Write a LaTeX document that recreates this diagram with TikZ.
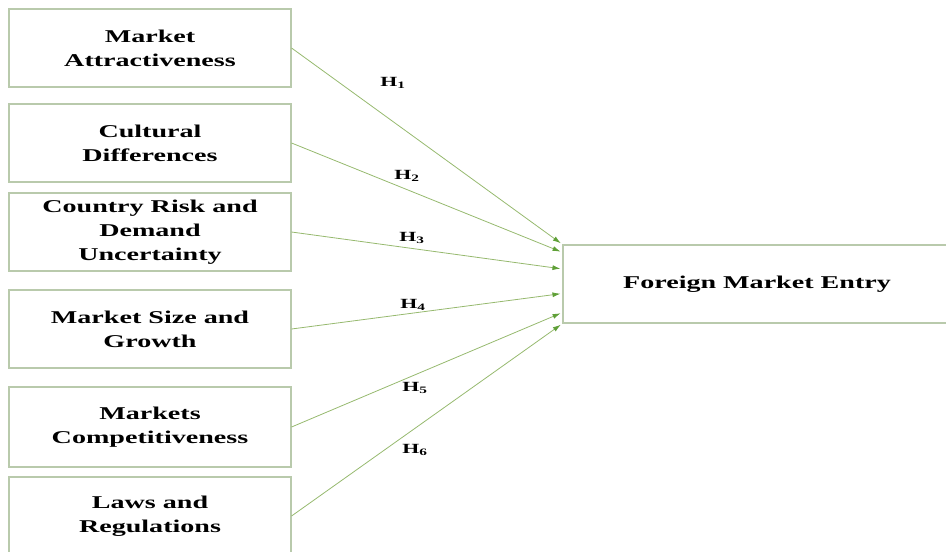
\documentclass[tikz,border=0pt]{standalone}
\usepackage{fontspec}
\setmainfont{Liberation Serif}[FakeStretch=1.56]
\usetikzlibrary{arrows.meta,calc}

\definecolor{boxline}{RGB}{185,202,172}
\definecolor{arrowline}{RGB}{150,185,110}
\definecolor{arrowtip}{RGB}{95,160,55}

\begin{document}
\begin{tikzpicture}[x=1pt, y=-1pt,
            box/.style={draw=boxline, line width=1.1pt, minimum width=282pt, minimum height=78pt,
                        inner sep=0pt, align=center, font=\fontsize{18}{24}\selectfont\bfseries},
            hyp/.style={inner sep=0pt, font=\fontsize{14}{16}\selectfont\bfseries},
            link/.style={draw=arrowline, line width=0.8pt, shorten >=2pt,
                         -{Latex[length=8pt,width=5pt,color=arrowtip]}}]
        \useasboundingbox (0,0) rectangle (946,552);
        \clip (0,0) rectangle (946,552);
        % factors
        \node[box] (b1) at (150,48) {Market\\Attractiveness};
        \node[box] (b2) at (150,143) {Cultural\\Differences};
        \node[box] (b3) at (150,232) {Country Risk and\\Demand\\Uncertainty};
        \node[box] (b4) at (150,329) {Market Size and\\Growth};
        \node[box, minimum height=80pt] (b5) at (150,427) {Markets\\Competitiveness};
        \node[box] (b6) at (150,516) {Laws and\\Regulations};
        % outcome
        \node[box, minimum width=388pt] (fme) at (757,284) {Foreign Market Entry};
        % hypotheses
        \foreach \i/\f in {1/0.0,2/0.1,3/0.31,4/0.62,5/0.86,6/1.0}
            \draw[link] (b\i.east) -- ($(fme.north west)!\f!(fme.south west)$);
        \node[hyp] (h1) at (393,83) {H\textsubscript{1}};
        \node[hyp] (h2) at (407,176) {H\textsubscript{2}};
        \node[hyp] (h3) at (412,238) {H\textsubscript{3}};
        \node[hyp] (h4) at (413,305) {H\textsubscript{4}};
        \node[hyp] (h5) at (415,388) {H\textsubscript{5}};
        \node[hyp] (h6) at (415,450) {H\textsubscript{6}};
\end{tikzpicture}
\end{document}
